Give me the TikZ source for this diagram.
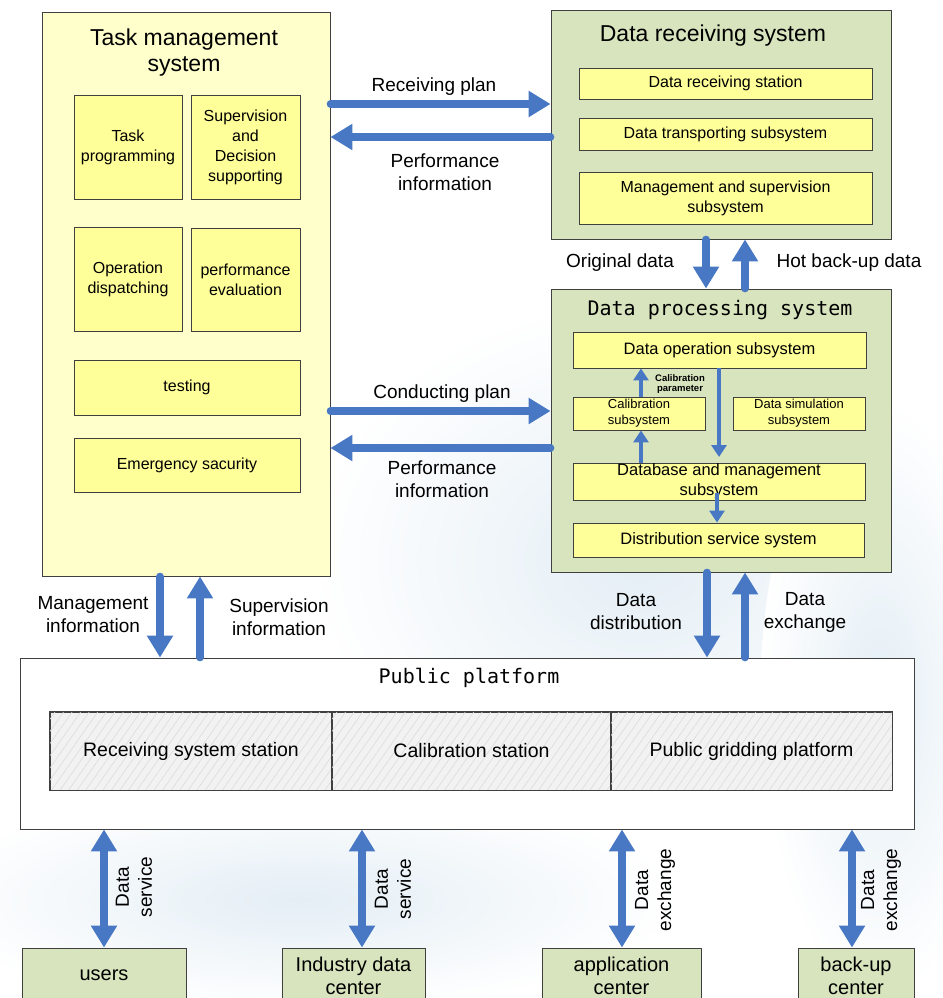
\documentclass[tikz,border=0pt]{standalone}
\usepackage{fontspec}
\setmainfont{Liberation Sans}
\newfontfamily\titlemono{DejaVu Sans Mono}
\usetikzlibrary{arrows.meta,patterns.meta}
\definecolor{arrowblue}{RGB}{72,120,196}
\definecolor{tmyellow}{RGB}{255,255,204}
\definecolor{inyellow}{RGB}{255,255,153}
\definecolor{boxgreen}{RGB}{215,228,189}
\definecolor{hatchgray}{RGB}{242,242,242}
\definecolor{bgblue}{RGB}{228,238,245}
\begin{document}
\begin{tikzpicture}[x=1pt,y=-1pt,
  box/.style={draw=black!75, line width=0.9pt, inner sep=0pt, align=center},
  outery/.style={box, fill=tmyellow},
  iny/.style={box, fill=inyellow, font=\fontsize{16}{20}\selectfont},
  smally/.style={box, fill=inyellow, font=\fontsize{13}{16}\selectfont},
  gbox/.style={box, fill=boxgreen},
  hbox/.style={box, fill=hatchgray, font=\fontsize{19.5}{23}\selectfont},
  titletxt/.style={align=center, font=\fontsize{23}{26}\selectfont},
  monotitle/.style={font=\titlemono\fontsize{20}{24}\selectfont},
  lbl/.style={align=center, font=\fontsize{19}{23}\selectfont},
  bottomtxt/.style={gbox, font=\fontsize{20}{23}\selectfont},
  bigarrow/.style={draw=arrowblue, line width=7.5pt, line cap=round, -{Triangle[length=22pt,width=25pt]}},
  bigboth/.style={draw=arrowblue, line width=7.5pt, {Triangle[length=22pt,width=25pt]}-{Triangle[length=22pt,width=25pt]}},
  smallarrow/.style={draw=arrowblue, line width=4pt, -{Triangle[length=12pt,width=15pt]}},
]
\useasboundingbox (0,0) rectangle (942,998);
% faint background
\shade[inner color=bgblue, outer color=white] (640,560) ellipse [x radius=330, y radius=260];
\shade[inner color=bgblue, outer color=white] (300,900) ellipse [x radius=380, y radius=110];
\shade[inner color=bgblue, outer color=white] (880,700) ellipse [x radius=120, y radius=300];

% Task management system
\node[outery, minimum width=288, minimum height=564] (tms) at (186,294) {};
\node[titletxt] (tmstitle) at (184,53) {Task management\\system};
\node[iny, minimum width=108, minimum height=104] (tp) at (128,147) {Task\\programming};
\node[iny, minimum width=109, minimum height=104] (sds) at (245.5,147) {Supervision\\and\\Decision\\supporting};
\node[iny, minimum width=108, minimum height=104] (od) at (128,279) {Operation\\dispatching};
\node[iny, minimum width=109, minimum height=103] (pe) at (245.5,279.5) {performance\\evaluation};
\node[iny, minimum width=226, minimum height=55] (test) at (187,387.5) {testing};
\node[iny, minimum width=226, minimum height=54] (es) at (187,465) {Emergency sacurity};

% Data receiving system
\node[gbox, minimum width=340, minimum height=229] (drs) at (721,124.5) {};
\node[titletxt] (drstitle) at (713,36) {Data receiving system};
\node[iny, minimum width=293, minimum height=31] (drst) at (725.5,83.5) {Data receiving station};
\node[iny, minimum width=293, minimum height=32] (dts) at (725.5,134) {Data transporting subsystem};
\node[iny, minimum width=293, minimum height=52] (mss) at (725.5,198) {Management and supervision\\subsystem};

% Data processing system
\node[gbox, minimum width=340, minimum height=283] (dps) at (721,430.5) {};
\node[monotitle] (dpstitle) at (720,310) {Data processing system};
\node[iny, minimum width=293, minimum height=36, font=\fontsize{16.5}{20}\selectfont] (dos) at (719.5,350) {Data operation subsystem};
\node[smally, minimum width=132, minimum height=33] (cs) at (639,413.5) {Calibration\\subsystem};
\node[smally, minimum width=132, minimum height=33] (dss) at (799,413.5) {Data simulation\\subsystem};
\node[iny, minimum width=292, minimum height=37, font=\fontsize{16.5}{20}\selectfont] (dbm) at (719,481.5) {Database and management\\subsystem};
\node[iny, minimum width=291, minimum height=34, font=\fontsize{16.5}{20}\selectfont] (dist) at (718.5,540) {Distribution service system};

\coordinate (dbtip) at (719,457);
\coordinate (dbstart) at (717,493);
\draw[smallarrow] (cs.north -| 641,0) -- (dos.south -| 641,0);
\draw[smallarrow] (dbm.north -| 641,0) -- (cs.south -| 641,0);
\draw[smallarrow] (dos.south -| 719,0) -- (dbtip);
\draw[smallarrow] (dbstart) -- (dist.north -| 717,0);
\node[align=center, font=\bfseries\fontsize{9.5}{9.5}\selectfont] (calpar) at (680,384) {Calibration\\parameter};

% Public platform
\node[box, fill=white, minimum width=894, minimum height=171] (pp) at (467,743.5) {};
\node[monotitle] (pptitle) at (469,678) {Public platform};
\node[hbox, minimum width=282, minimum height=78] (h1) at (191,751) {};
\node[hbox, minimum width=279, minimum height=78] (h2) at (471.5,751) {};
\node[hbox, minimum width=281, minimum height=78] (h3) at (751.5,751) {};
\foreach \n in {h1,h2,h3}{
  \path[pattern={Lines[angle=55,distance=7pt,line width=0.6pt]}, pattern color=black!14]
    (\n.south west) rectangle (\n.north east);
  \draw[black!75, line width=0.9pt] (\n.south west) rectangle (\n.north east);
}
\node[font=\fontsize{19.5}{23}\selectfont] (h1t) at (h1) {Receiving system station};
\node[font=\fontsize{19.5}{23}\selectfont] (h2t) at (h2) {Calibration station};
\node[font=\fontsize{19.5}{23}\selectfont] (h3t) at (h3) {Public gridding platform};

% bottom boxes
\node[bottomtxt, minimum width=164, minimum height=55] (users) at (104,975.5) {users};
\node[bottomtxt, minimum width=143, minimum height=55] (idc) at (353.5,975.5) {Industry data\\center};
\node[bottomtxt, minimum width=159, minimum height=55] (ac) at (621.5,975.5) {application\\center};
\node[bottomtxt, minimum width=116, minimum height=55] (bc) at (856,975.5) {back-up\\center};

% arrows between systems
\draw[bigarrow] (tms.east |- 0,104) -- (drs.west |- 0,104);
\draw[bigarrow] (drs.west |- 0,137) -- (tms.east |- 0,137);
\node[lbl] (rpl) at (434,87) {Receiving plan};
\node[lbl] (pil1) at (445,172) {Performance\\information};

\draw[bigarrow] (tms.east |- 0,411) -- (dps.west |- 0,411);
\draw[bigarrow] (dps.west |- 0,448) -- (tms.east |- 0,448);
\node[lbl] (cpl) at (442,394) {Conducting plan};
\node[lbl] (pil2) at (442,479) {Performance\\information};

\draw[bigarrow] (drs.south -| 706,0) -- (dps.north -| 706,0);
\draw[bigarrow] (dps.north -| 745,0) -- (drs.south -| 745,0);
\node[lbl] (odl) at (620,263) {Original data};
\node[lbl] (hbl) at (849,263) {Hot back-up data};

\draw[bigarrow] (tms.south -| 160,0) -- (pp.north -| 160,0);
\draw[bigarrow] (pp.north -| 200,0) -- (tms.south -| 200,0);
\node[lbl] (mil) at (93,615) {Management\\information};
\node[lbl] (sil) at (279,617) {Supervision\\information};

\draw[bigarrow] (dps.south -| 707,0) -- (pp.north -| 707,0);
\draw[bigarrow] (pp.north -| 745,0) -- (dps.south -| 745,0);
\node[lbl] (ddl) at (636,612) {Data\\distribution};
\node[lbl] (del) at (805,612) {Data\\exchange};

% bottom double arrows
\draw[bigboth] (pp.south -| 104,0) -- (users.north -| 104,0);
\draw[bigboth] (pp.south -| 362,0) -- (idc.north -| 362,0);
\draw[bigboth] (pp.south -| 622,0) -- (ac.north -| 622,0);
\draw[bigboth] (pp.south -| 852,0) -- (bc.north -| 852,0);
\node[lbl, rotate=90] (ds1) at (134,887) {Data\\service};
\node[lbl, rotate=90] (ds2) at (393,889) {Data\\service};
\node[lbl, rotate=90] (de1) at (655,890) {Data\\exchange};
\node[lbl, rotate=90] (de2) at (881,890) {Data\\exchange};
\end{tikzpicture}
\end{document}
